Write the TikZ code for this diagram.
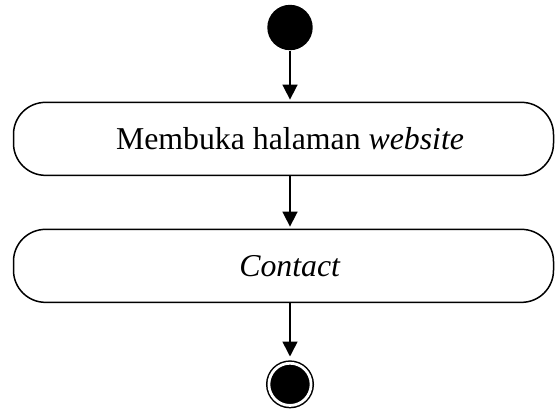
\documentclass[tikz,border=0pt]{standalone}
\usepackage{fontspec}
\setmainfont{Liberation Serif}
\usetikzlibrary{arrows.meta, positioning}

\begin{document}
\begin{tikzpicture}[x=1pt, y=-1pt, thick,
  start node/.style={circle, fill=black, minimum size=45.4pt, inner sep=0pt},
  end node/.style={circle, draw, fill=black, double=white, double distance=2.8pt, line width=1.5pt, minimum size=42.2pt, inner sep=0pt},
  action node/.style={draw, rounded corners=32pt, line width=1.5pt, minimum width=540pt, minimum height=73pt},
  action text/.style={font=\fontsize{31.8pt}{37pt}\selectfont},
  flow/.style={line width=1.6pt, -{Triangle[length=15pt, width=15pt]}, shorten >=2pt}]
\useasboundingbox (0,0) rectangle (555,408);
\node[start node] (start) at (290,27.5) {};
\node[action node] (act1) [below=51pt of start, xshift=-6.5pt] {};
\node[action node] (act2) [below=52.5pt of act1] {};
\node[end node] (stop) [below=59.4pt of act2, xshift=6.5pt] {};
\foreach \n/\t in {act1/Membuka halaman \textit{website}, act2/\textit{Contact}}{
    \node[action text] (\n text) at (start |- \n) {\t};}
\draw[flow] (start) -- (start |- act1.north);
\draw[flow] (start |- act1.south) -- (start |- act2.north);
\draw[flow, shorten >=6pt] (start |- act2.south) -- (stop);
\end{tikzpicture}
\end{document}
